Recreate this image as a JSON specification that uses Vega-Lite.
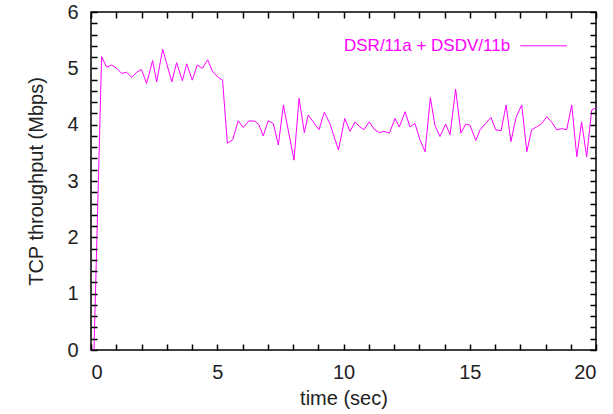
{
  "$schema": "https://vega.github.io/schema/vega-lite/v6.json",
  "width": 505,
  "height": 338,
  "autosize": {"type": "none"},
  "padding": {"left": 91, "top": 12, "right": 17, "bottom": 64},
  "background": "white",
  "config": {
    "view": {"stroke": "black", "strokeWidth": 1.5},
    "font": "Liberation Sans",
    "axis": {"grid": false, "domain": false, "labelFont": "Liberation Sans", "labelFontSize": 20, "labelColor": "#222", "titleFont": "Liberation Sans", "titleFontSize": 20, "titleFontWeight": "normal", "titleColor": "#222"}
  },
  "datasets": {
    "tcp": [
      {"t": 0.0, "v": 0.0}, {"t": 0.12, "v": 0.02}, {"t": 0.42, "v": 5.21}, {"t": 0.62, "v": 5.02}, {"t": 0.82, "v": 5.06},
      {"t": 1.02, "v": 5.0}, {"t": 1.21, "v": 4.91}, {"t": 1.41, "v": 4.93}, {"t": 1.61, "v": 4.84}, {"t": 1.81, "v": 4.93},
      {"t": 2.0, "v": 4.98}, {"t": 2.2, "v": 4.73}, {"t": 2.44, "v": 5.14}, {"t": 2.6, "v": 4.76}, {"t": 2.84, "v": 5.34},
      {"t": 3.2, "v": 4.76}, {"t": 3.39, "v": 5.1}, {"t": 3.62, "v": 4.78}, {"t": 3.79, "v": 5.08}, {"t": 4.01, "v": 4.79},
      {"t": 4.21, "v": 5.06}, {"t": 4.41, "v": 5.0}, {"t": 4.62, "v": 5.15}, {"t": 4.82, "v": 4.94}, {"t": 5.04, "v": 4.84},
      {"t": 5.21, "v": 4.79}, {"t": 5.4, "v": 3.67}, {"t": 5.61, "v": 3.73}, {"t": 5.83, "v": 4.07}, {"t": 6.03, "v": 3.95},
      {"t": 6.26, "v": 4.07}, {"t": 6.5, "v": 4.06}, {"t": 6.65, "v": 4.0}, {"t": 6.82, "v": 3.8}, {"t": 7.02, "v": 4.07},
      {"t": 7.22, "v": 4.02}, {"t": 7.42, "v": 3.64}, {"t": 7.62, "v": 4.35}, {"t": 8.04, "v": 3.37}, {"t": 8.24, "v": 4.47},
      {"t": 8.45, "v": 3.86}, {"t": 8.6, "v": 4.17}, {"t": 8.8, "v": 4.05}, {"t": 9.03, "v": 3.91}, {"t": 9.24, "v": 4.22},
      {"t": 9.46, "v": 4.02}, {"t": 9.8, "v": 3.55}, {"t": 10.05, "v": 4.11}, {"t": 10.26, "v": 3.88}, {"t": 10.46, "v": 4.05},
      {"t": 10.65, "v": 3.96}, {"t": 10.81, "v": 3.91}, {"t": 11.02, "v": 4.05}, {"t": 11.21, "v": 3.92}, {"t": 11.42, "v": 3.86},
      {"t": 11.6, "v": 3.88}, {"t": 11.82, "v": 3.85}, {"t": 12.04, "v": 4.11}, {"t": 12.21, "v": 3.96}, {"t": 12.44, "v": 4.23},
      {"t": 12.63, "v": 3.96}, {"t": 12.83, "v": 4.02}, {"t": 13.03, "v": 3.73}, {"t": 13.23, "v": 3.52}, {"t": 13.44, "v": 4.48},
      {"t": 13.62, "v": 3.99}, {"t": 13.82, "v": 3.79}, {"t": 14.05, "v": 4.01}, {"t": 14.22, "v": 3.82}, {"t": 14.44, "v": 4.63},
      {"t": 14.65, "v": 3.85}, {"t": 14.84, "v": 4.01}, {"t": 15.01, "v": 3.99}, {"t": 15.24, "v": 3.72}, {"t": 15.41, "v": 3.91},
      {"t": 15.63, "v": 4.02}, {"t": 15.84, "v": 4.13}, {"t": 16.03, "v": 3.91}, {"t": 16.24, "v": 3.89}, {"t": 16.44, "v": 4.35},
      {"t": 16.63, "v": 3.7}, {"t": 16.84, "v": 4.14}, {"t": 17.06, "v": 4.35}, {"t": 17.26, "v": 3.52}, {"t": 17.45, "v": 3.91},
      {"t": 17.65, "v": 3.96}, {"t": 17.85, "v": 4.02}, {"t": 18.05, "v": 4.14}, {"t": 18.24, "v": 4.05}, {"t": 18.44, "v": 3.91},
      {"t": 18.64, "v": 3.93}, {"t": 18.84, "v": 3.91}, {"t": 19.04, "v": 4.35}, {"t": 19.24, "v": 3.43}, {"t": 19.43, "v": 4.05},
      {"t": 19.63, "v": 3.43}, {"t": 19.83, "v": 4.26}, {"t": 20.0, "v": 4.3}
    ],
    "legend": [{"label": "DSR/11a + DSDV/11b", "tx": 16.6, "x1": 17.0, "x2": 18.85, "y": 5.4}]
  },
  "layer": [
    {
      "data": {"name": "tcp"},
      "mark": {"type": "line", "color": "#ff00ff", "strokeWidth": 1, "clip": true},
      "encoding": {
        "x": {"field": "t", "type": "quantitative", "scale": {"domain": [0, 20], "nice": false, "zero": false},
          "axis": {"orient": "bottom", "title": "time (sec)", "ticks": true, "tickColor": "black", "tickWidth": 1.5, "tickSize": 6, "offset": -6, "zindex": 2, "values": [0,1,2,3,4,5,6,7,8,9,10,11,12,13,14,15,16,17,18,19,20], "labelExpr": "datum.value % 5 === 0 ? format(datum.value, 'd') : ''", "labelPadding": 12, "titlePadding": 6}},
        "y": {"field": "v", "type": "quantitative", "scale": {"domain": [0, 6], "nice": false},
          "axis": {"orient": "left", "title": "TCP throughput (Mbps)", "ticks": true, "tickColor": "black", "tickWidth": 1.5, "tickSize": 6, "offset": -6, "zindex": 2, "values": [0,0.2,0.4,0.6,0.8,1,1.2,1.4,1.6,1.8,2,2.2,2.4,2.6,2.8,3,3.2,3.4,3.6,3.8,4,4.2,4.4,4.6,4.8,5,5.2,5.4,5.6,5.8,6], "labelExpr": "abs(datum.value - round(datum.value)) < 0.001 ? format(datum.value, 'd') : ''", "labelPadding": 13, "titlePadding": 20}}
      }
    },
    {
      "data": {"name": "tcp"},
      "mark": {"type": "line", "strokeOpacity": 0},
      "encoding": {
        "x": {"field": "t", "type": "quantitative",
          "axis": {"orient": "top", "title": null, "labels": false, "ticks": true, "tickColor": "black", "tickWidth": 1.5, "tickSize": 6, "offset": -6, "zindex": 2, "values": [0,1,2,3,4,5,6,7,8,9,10,11,12,13,14,15,16,17,18,19,20]}},
        "y": {"field": "v", "type": "quantitative",
          "axis": {"orient": "right", "title": null, "labels": false, "ticks": true, "tickColor": "black", "tickWidth": 1.5, "tickSize": 6, "offset": -6, "zindex": 2, "values": [0,0.2,0.4,0.6,0.8,1,1.2,1.4,1.6,1.8,2,2.2,2.4,2.6,2.8,3,3.2,3.4,3.6,3.8,4,4.2,4.4,4.6,4.8,5,5.2,5.4,5.6,5.8,6]}}
      }
    },
    {
      "data": {"name": "legend"},
      "mark": {"type": "text", "align": "right", "baseline": "middle", "color": "#ff00ff", "font": "Liberation Sans", "fontSize": 17},
      "encoding": {
        "x": {"field": "tx", "type": "quantitative", "axis": null},
        "y": {"field": "y", "type": "quantitative", "axis": null},
        "text": {"field": "label"}
      }
    },
    {
      "data": {"name": "legend"},
      "mark": {"type": "rule", "color": "#ff00ff", "strokeWidth": 1},
      "encoding": {
        "x": {"field": "x1", "type": "quantitative", "axis": null},
        "x2": {"field": "x2"},
        "y": {"field": "y", "type": "quantitative", "axis": null}
      }
    }
  ],
  "resolve": {"axis": {"x": "independent", "y": "independent"}}
}
